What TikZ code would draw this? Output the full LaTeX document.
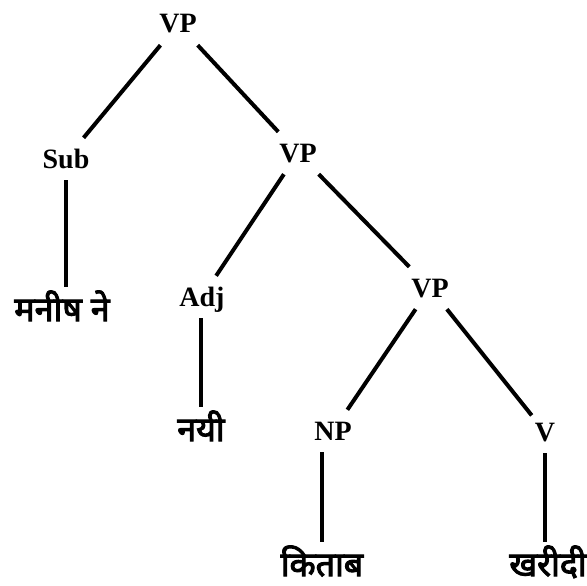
\documentclass[tikz,border=0pt]{standalone}
\usepackage{fontspec}
\setmainfont{Liberation Serif}
\newfontfamily\deva[Script=Devanagari,FakeBold=3]{Noto Sans}
\begin{document}
\begin{tikzpicture}[x=1pt,y=-1pt,
  cat/.style={font=\fontsize{28}{30}\selectfont\bfseries,anchor=base,text height=20pt,text depth=2pt,inner xsep=3pt,inner ysep=10pt},
  word/.style={font=\deva\fontsize{34}{36}\selectfont,anchor=base,text height=30pt,text depth=1pt,inner xsep=6pt,inner ysep=4pt},
  edge/.style={line width=4pt}]
\useasboundingbox (0,0) rectangle (587,586);
\node[cat] (VP) at (178,33) {VP};% top
\node[cat] (Sub) at (66,168) {Sub};
\node[cat] (VPP) at (298,162) {VP};
\node[cat] (Adj) at (202,306) {Adj};
\node[cat] (VPPP) at (430,297) {VP};
\node[cat] (NP) at (333,440) {NP};
\node[cat] (V) at (545,441) {V};

\node[word] (manish) at (62,321) {मनीष ने};% leaves
\node[word] (nayi) at (201,441) {नयी};
\node[word] (kitab) at (322,576) {किताब};
\node[word] (kharidi) at (548,576) {खरीदी};

\draw[edge] (VP) -- (Sub);
\draw[edge] (VP) -- (VPP);
\draw[edge] (VPP) -- (Adj);
\draw[edge] (VPP) -- (VPPP);
\draw[edge] (VPPP) -- (NP);
\draw[edge] (VPPP) -- (V);
\draw[edge] (Sub) -- (Sub |- manish.north);
\draw[edge] (nayi) -- (nayi |- Adj.south);
\draw[edge] (kitab) -- (kitab |- NP.south);
\draw[edge] (V) -- (V |- kharidi.north);
\end{tikzpicture}
\end{document}
